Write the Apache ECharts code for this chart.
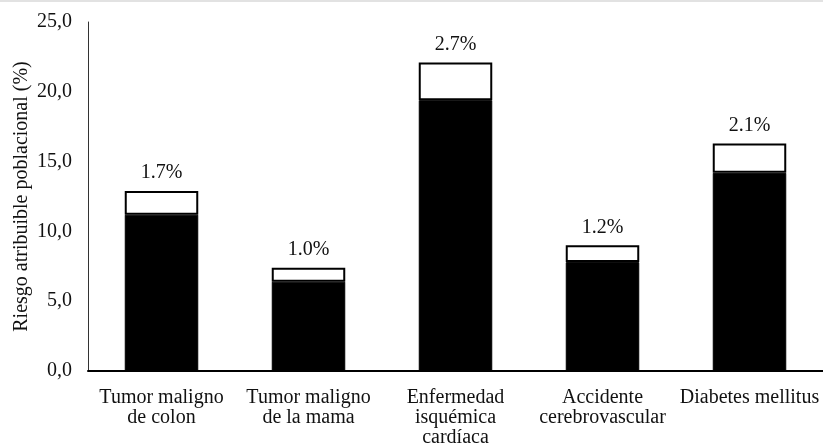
<!DOCTYPE html>
<html>
<head>
<meta charset="utf-8">
<script src="https://cdn.jsdelivr.net/npm/echarts@6/dist/echarts.min.js"></script>
<style>
  html, body { margin: 0; padding: 0; background: #fff; }
  #chart { width: 823px; height: 445px; }
</style>
</head>
<body>
<div id="chart"></div>
<script>
// Causas de muerte
const categories = [
  'Tumor maligno\nde colon',
  'Tumor maligno\nde la mama',
  'Enfermedad\nisquémica\ncardíaca',
  'Accidente\ncerebrovascular',
  'Diabetes mellitus'
];
// Parte inferior (negra) de cada barra
const baseValues = [11.2, 6.4, 19.4, 7.8, 14.2];
// Parte superior (blanca), rotulada encima de la barra
const topValues = [1.7, 1.0, 2.7, 1.2, 2.1];
const yTicks = [0, 5, 10, 15, 20, 25];

const FONT = '"Liberation Serif", "Times New Roman", serif';
const chart = echarts.init(document.getElementById('chart'), null, { renderer: 'canvas' });

chart.setOption({
  backgroundColor: '#fff',
  animation: false,
  graphic: [{
    type: 'rect',
    shape: { x: 0, y: 0, width: 823, height: 2 },
    style: { fill: '#e2e2e2' },
    silent: true
  }],
  grid: { left: 88, right: 0, top: 22, bottom: 74, containLabel: false, outerBoundsMode: 'none' },
  xAxis: {
    type: 'category',
    data: categories,
    axisLine: { show: true, lineStyle: { color: '#000', width: 2 } },
    axisTick: { show: false },
    axisLabel: {
      interval: 0,
      margin: 17,
      color: '#111',
      fontFamily: FONT,
      fontSize: 20,
      lineHeight: 20
    }
  },
  yAxis: {
    type: 'value',
    min: yTicks[0],
    max: yTicks[yTicks.length - 1],
    interval: 5,
    name: 'Riesgo atribuible poblacional (%)',
    nameLocation: 'middle',
    nameGap: 56,
    nameMoveOverlap: false,
    nameRotate: 90,
    nameTextStyle: { color: '#111', fontFamily: FONT, fontSize: 20 },
    axisLine: { show: true, lineStyle: { color: '#333', width: 1 } },
    axisTick: { show: false },
    splitLine: { show: false },
    axisLabel: {
      margin: 16,
      color: '#111',
      fontFamily: FONT,
      fontSize: 20,
      formatter: v => v.toFixed(1).replace('.', ',')
    }
  },
  series: [
    {
      type: 'bar',
      stack: 'total',
      data: baseValues,
      barWidth: '50%',
      itemStyle: { color: '#000', borderColor: '#000', borderWidth: 1 }
    },
    {
      type: 'bar',
      stack: 'total',
      data: topValues,
      barWidth: '50%',
      itemStyle: { color: '#fff', borderColor: '#000', borderWidth: 2 },
      label: {
        show: true,
        position: 'top',
        distance: 8,
        color: '#111',
        fontFamily: FONT,
        fontSize: 20,
        formatter: p => topValues[p.dataIndex].toFixed(1) + '%'
      }
    }
  ]
});
</script>
</body>
</html>
